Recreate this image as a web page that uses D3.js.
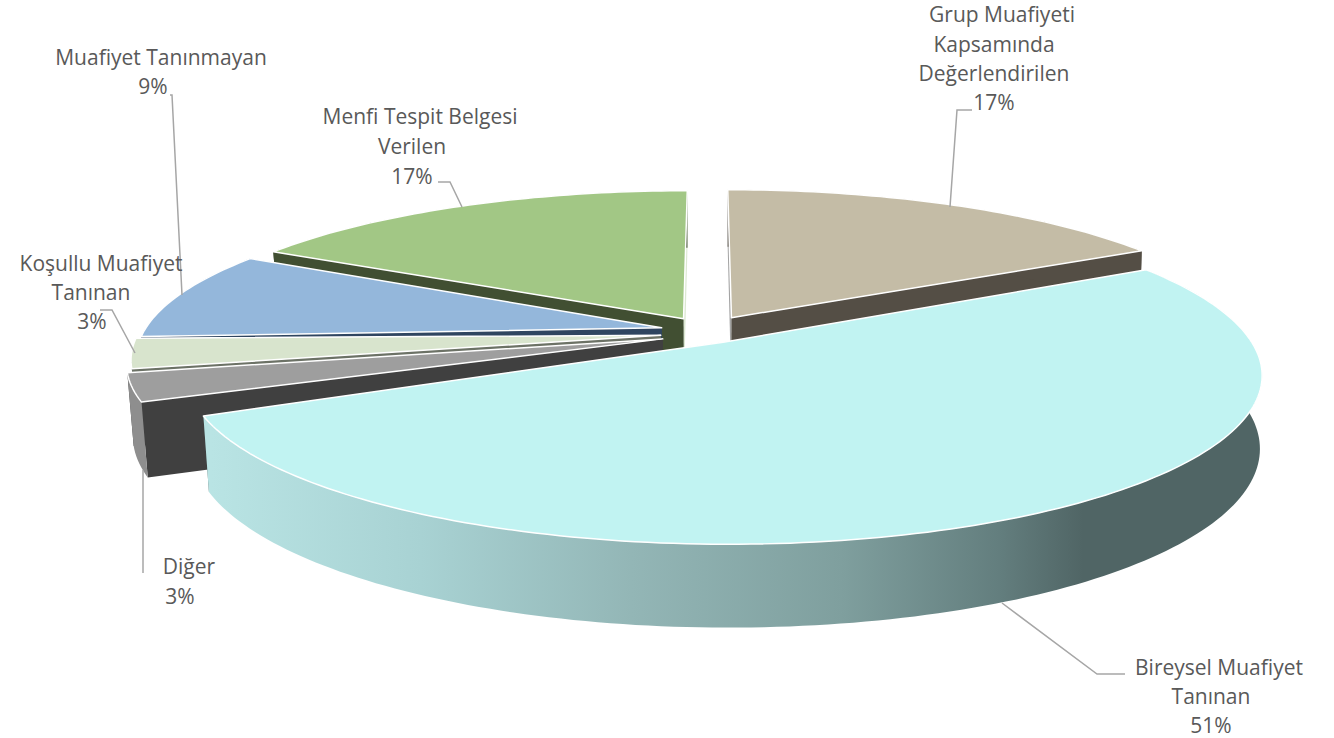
<!DOCTYPE html>
<html>
<head>
<meta charset="utf-8">
<script src="https://cdn.jsdelivr.net/npm/d3@7"></script>
<style>
  html, body { margin: 0; background: #fff; }
  text { font-family: "Open Sans", sans-serif; font-size: 21px; fill: #595959; }
</style>
</head>
<body>
<svg id="chart" width="1334" height="738"></svg>
<script>
// clockwise from 12 o'clock. labels are rounded, the cut of the slices gives the decimals
var categories = [["Grup Muafiyeti", "Kapsamında", "Değerlendirilen"], ["Bireysel Muafiyet", "Tanınan"], ["Diğer"],
                  ["Koşullu Muafiyet", "Tanınan"], ["Muafiyet Tanınmayan"], ["Menfi Tespit Belgesi", "Verilen"]]
var values = [17, 51.2, 2.8, 3, 9, 17]
var topColors = ["#C4BCA6", "#C1F3F2", "#9E9E9E", "#D8E4CD", "#94B7DB", "#A2C785"]
var wallColors = ["#544E45", "#506565", "#404040", "#6C7266", "#2F4560", "#414F32"]
var backWallColors = ["#A3A3A3", "#506565", "#404040", "#6C7266", "#2F4560", "#DCE8D2"]

// back to front
var drawOrder = [5, 0, 4, 3, 2, 1]

// fake 3d: disc coordinates go through a small perspective
var perspective = 0.18
var explode = 0.094

// the picture is not a clean projection, small per slice corrections in px
// [dx rim, dy rim, dx tip, dy tip]
var nudge = [[0, 0, 0, 0], [-6, -1, -6, -1], [-3, -3, 2, 4], [2, -4, 2, 3], [3, 0, 2, 1], [1, 1, 1, 1]]
var bigRadiusX = 1.005
var bigRadiusY = 1.027

var xScale = d3.scaleLinear().domain([-1, 1]).range([707 - 518, 707 + 518])
var yScale = d3.scaleLinear().domain([-1, 1]).range([330 - 155, 330 + 155])
var percent = d3.format(".0f")

var svg = d3.select("#chart")

var defs = svg.append("defs")
var bigGrad = defs.append("linearGradient")
    .attr("id", "big-wall")
    .attr("gradientUnits", "userSpaceOnUse")
    .attr("x1", 211).attr("x2", 1262)
    .attr("y1", 0).attr("y2", 0)
var bigStops = [[0, "#B9E4E4"], [0.2, "#A8D2D3"], [0.4, "#93B6B6"], [0.6, "#7F9F9E"], [0.75, "#637E7E"], [0.83, "#506565"], [1, "#506565"]]
bigStops.forEach(function(s) {
    bigGrad.append("stop").attr("offset", s[0]).attr("stop-color", s[1])
})

var slices = d3.pie().sort(null).value(function(d) { return d })(values)

function project(slice, angle, r, drop) {
    var mid = (slice.startAngle + slice.endAngle) / 2
    var big = slice.index == 1
    var n = nudge[slice.index]
    var u = r * (big ? bigRadiusX : 1) * Math.sin(angle) + explode * Math.sin(mid)
    var v = -r * (big ? bigRadiusY : 1) * Math.cos(angle) - explode * Math.cos(mid)
    var s = 1 / (1 - perspective * v)
    var x = xScale(u * s) + n[0] * r + n[2] * (1 - r)
    var y = yScale(v * s) + n[1] * r + n[3] * (1 - r)
    if (drop) {
        var converge = x < xScale(0) ? 0.011 : 0.004
        x = x + (xScale(0) - x) * converge
        y = y + 70 + 12 * v
    }
    return [x, y]
}

function arcAngles(slice) {
    var n = Math.max(4, Math.ceil((slice.endAngle - slice.startAngle) / 0.02))
    return d3.range(n + 1).map(function(i) {
        return slice.startAngle + (slice.endAngle - slice.startAngle) * i / n
    })
}

var line = d3.line()

drawOrder.forEach(function(i) {
    var slice = slices[i]
    var g = svg.append("g").attr("class", "slice")
    var angles = arcAngles(slice)

    // the two cut faces, the one turned away first
    var cuts = [slice.startAngle, slice.endAngle].sort(function(a, b) {
        return project(slice, a, 1, false)[1] - project(slice, b, 1, false)[1]
    })
    cuts.forEach(function(a, k) {
        g.append("path")
            .attr("d", line([
                project(slice, a, 0, false), project(slice, a, 1, false),
                project(slice, a, 1, true), project(slice, a, 0, true)
            ]) + "Z")
            .attr("fill", k == 0 ? backWallColors[i] : wallColors[i])
    })

    // curved outer face
    var rim = angles.map(function(a) { return project(slice, a, 1, false) })
    var rimLow = angles.map(function(a) { return project(slice, a, 1, true) }).reverse()
    g.append("path")
        .attr("d", line(rim.concat(rimLow)) + "Z")
        .attr("fill", i == 1 ? "url(#big-wall)" : i == 2 ? "#8E8E8E" : wallColors[i])

    // top face
    var top = [project(slice, 0, 0, false)].concat(rim)
    g.append("path")
        .attr("d", line(top) + "Z")
        .attr("fill", topColors[i])
        .attr("stroke", "#fff")
        .attr("stroke-width", 1.5)
        .attr("stroke-linejoin", "round")
})

// where each label line sits, last one is the percent
var labelSpots = [
    [[1002, 15], [994, 45], [994, 74], [994, 103]],
    [[1219, 668], [1211, 697], [1211, 726]],
    [[189, 567], [180, 597]],
    [[101, 264], [91, 293], [92, 322]],
    [[161, 58], [153, 87]],
    [[420, 117], [412, 147], [412, 177]]
]

var leaders = [
    [[972, 110], [957, 110], [950, 207]],
    [[1002, 603], [1097, 674], [1125, 674]],
    [[143, 470], [143, 573]],
    [[100, 310], [112, 310], [135, 353]],
    [[170, 95], [172, 95], [182, 295]],
    [[438, 182], [450, 182], [462, 207]]
]

leaders.forEach(function(pts) {
    svg.append("path")
        .attr("d", line(pts))
        .attr("fill", "none")
        .attr("stroke", "#A6A6A6")
        .attr("stroke-width", 1.5)
})

categories.forEach(function(lines, i) {
    lines.concat(percent(values[i]) + "%").forEach(function(t, k) {
        svg.append("text")
            .text(t)
            .attr("x", labelSpots[i][k][0])
            .attr("y", labelSpots[i][k][1])
            .attr("dy", "0.35em")
            .attr("text-anchor", "middle")
    })
})
</script>
</body>
</html>
